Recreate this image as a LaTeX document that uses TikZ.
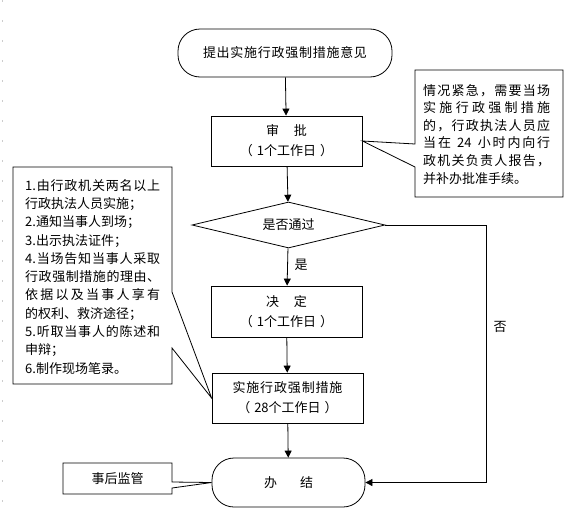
\documentclass[tikz,border=0pt]{standalone}
\usepackage{fontspec}
\setmainfont{Noto Sans CJK SC}
\usetikzlibrary{shapes.geometric,arrows.meta}
% spread the characters of one line over a given width
\ExplSyntaxOn
\NewDocumentCommand \spreadline { m m }
  { \makebox[#1][s]{ \tl_map_inline:nn {#2} { ##1 \hfil } \unskip } }
\ExplSyntaxOff

\begin{document}
\begin{tikzpicture}[x=1pt, y=-1pt,
		font=\fontsize{13}{20}\selectfont,
		box/.style={draw, line width=0.8pt, minimum width=151pt, minimum height=50pt, inner sep=0pt, align=center},
		term/.style={box, rounded corners=22pt},
		arr/.style={line width=0.8pt, -{Triangle[width=7pt,length=7pt]}},
		callout/.style={draw, line width=0.8pt, fill=white},
		note/.style={inner sep=0pt, anchor=north west, align=left}]
			%%%%% START %%%%%
			\useasboundingbox (0, 0) rectangle (572, 514);
			\draw[gray!40, line width=0.8pt, dash pattern=on 2pt off 18pt] (2, 0) -- (2, 514);
			
			\node[term, minimum width=214pt, minimum height=48pt] (tichu) at (285, 53) {\spreadline{164pt}{提出实施行政强制措施意见}};
			\node[box] (shenpi) at (286.5, 141) {审\hspace{15pt}批\\（\hspace{4pt}1个工作日\hspace{4pt}）};
			\node[draw, line width=0.8pt, diamond, aspect=4.2, minimum width=193pt, minimum height=46pt, inner sep=0pt] (shifou) at (288.5, 225) {是否通过};
			\node[box, minimum height=51pt] (jueding) at (286.5, 311.5) {决\hspace{15pt}定\\（\hspace{4pt}1个工作日\hspace{4pt}）};
			\node[box] (shishi) at (287.5, 398) {\spreadline{110pt}{实施行政强制措施}\\（\hspace{4pt}28个工作日\hspace{4pt}）};
			\node[term, minimum width=153pt, minimum height=49pt] (banjie) at (288.5, 482.5) {办\hspace{23pt}结};
			
			\draw[arr] (tichu) -- (shenpi);
			\draw[arr] (shenpi) -- (shifou);
			\draw[arr] (shifou) -- (jueding);
			\draw[arr] (jueding) -- (shishi);
			\draw[arr] (shishi) -- (banjie);
			\node (shi) at (301, 265) {是};
			
			\coordinate (fou) at (486, 225);
			\draw[arr] (shifou.east) -- (fou) |- (banjie.east);
			\node (foulabel) at (500, 327) {否};
			
			% note on the right
			\draw[callout] (415, 70) -- (563, 70) -- (563, 197) -- (415, 197) -- (415, 167) -- (shenpi.east) -- (415, 144) -- cycle;
			\node[note, text width=127pt, font=\fontsize{13}{17.6}\selectfont] (jinji) at (423, 84) {%
				\spreadline{\linewidth}{情况紧急，需要当场}\\
				\spreadline{\linewidth}{实施行政强制措施}\\
				\spreadline{\linewidth}{的，行政执法人员应}\\
				\spreadline{\linewidth}{当在{\ 24\ }小时内向行}\\
				\spreadline{\linewidth}{政机关负责人报告，}\\
				并补办批准手续。};
			
			% note on the left
			\draw[callout] (13, 167) -- (172, 167) -- (172, 292) -- (shishi.west) -- (172, 348) -- (172, 384) -- (13, 384) -- cycle;
			\node[note, text width=135pt, font=\fontsize{13}{18.3}\selectfont] (chengxu) at (25, 179) {%
				\spreadline{\linewidth}{{1.}由行政机关两名以上}\\
				行政执法人员实施；\\
				2.通知当事人到场；\\
				3.出示执法证件；\\
				\spreadline{\linewidth}{{4.}当场告知当事人采取}\\
				\spreadline{\linewidth}{行政强制措施的理由、}\\
				\spreadline{\linewidth}{依据以及当事人享有}\\
				的权利、救济途径；\\
				\spreadline{\linewidth}{{5.}听取当事人的陈述和}\\
				申辩；\\
				6.制作现场笔录。};
			
			% note at the bottom
			\draw[callout] (63, 463) -- (172, 463) -- (172, 482) -- (banjie.west) -- (172, 488) -- (172, 494) -- (63, 494) -- cycle;
			\node (jianguan) at (117.5, 479) {事后监管};
			%%%%% END %%%%%
\end{tikzpicture}
\end{document}
